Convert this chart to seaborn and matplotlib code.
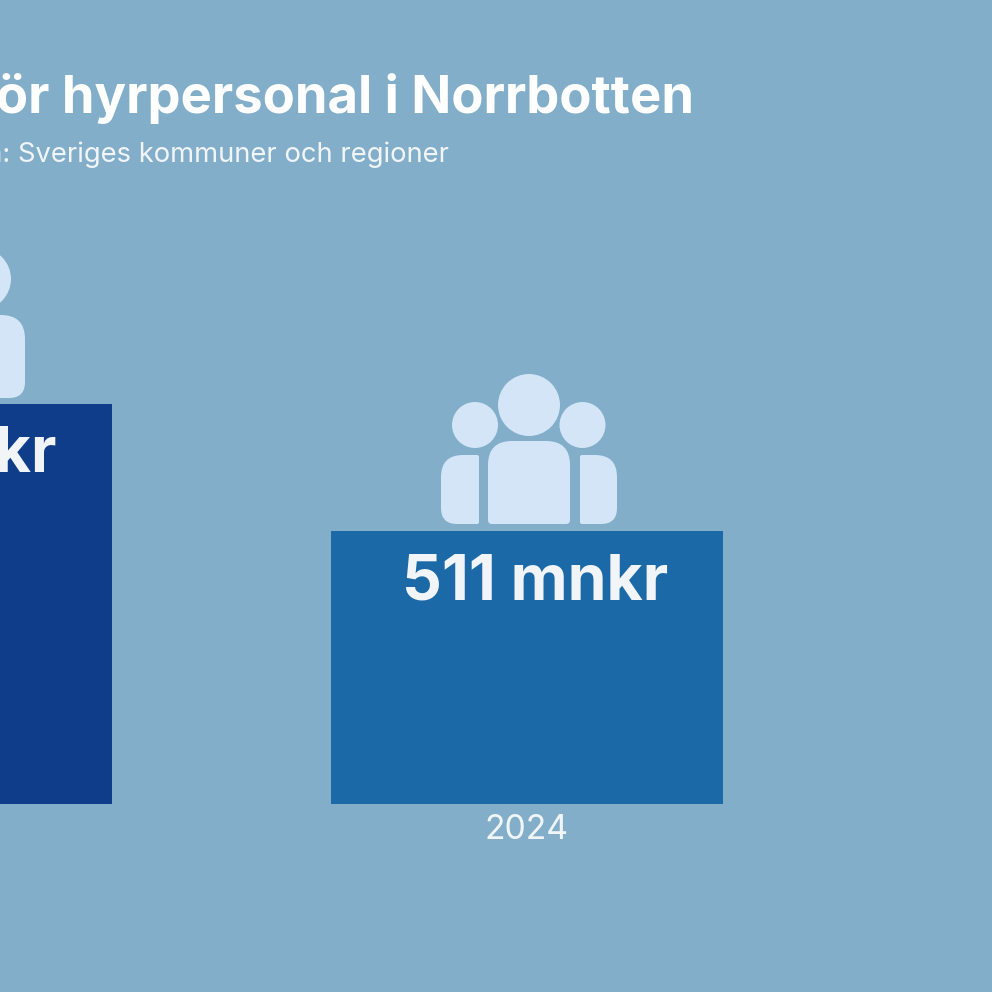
import matplotlib
matplotlib.use('Agg')
import matplotlib.pyplot as plt
from matplotlib.patches import Circle, PathPatch
from matplotlib.path import Path
from matplotlib.transforms import Affine2D
import pandas as pd
import seaborn as sns

years = ['2023', '2024']
costs = [749, 511]
value_labels = ['749 mnkr', '511 mnkr']
bar_colors = ['#0f3d8a', '#1c69a8']
title = 'Kostnader för hyrpersonal i Norrbotten'
subtitle = 'Källa: Sveriges kommuner och regioner'

BG = '#82aec9'
ICON = '#d3e5f6'
TEXT = '#f2f5f8'
FONT = ['Inter', 'DejaVu Sans']

sns.set_theme(style='white')
plt.rcParams['font.family'] = FONT

df = pd.DataFrame({'year': years, 'cost': costs})

fig = plt.figure(figsize=(9.92, 9.92), dpi=100, facecolor=BG)
# the picture is a crop, so the axes run past the left edge of the first bar
ax = fig.add_axes([0, 188 / 992, 1, 804 / 992], facecolor=BG)
sns.barplot(data=df, x='year', y='cost', hue='year', palette=bar_colors,
            legend=False, width=0.6415, saturation=1, linewidth=0, ax=ax)
ax.set_xlim(84 / 611, 1 + 465 / 611)
ax.set_ylim(0, 804 / 273 * 511)
ax.set_xlabel('')
ax.set_ylabel('')
ax.set_yticks([])
ax.tick_params(axis='x', length=0, pad=7, labelsize=24.3, colors=TEXT)
sns.despine(ax=ax, left=True, bottom=True)

# pixel coordinates, y downwards, for text and icons
px = Affine2D().scale(1 / 992, -1 / 992).translate(0, 1) + fig.transFigure


def rounded(x0, y0, x1, y1, tl, tr, br, bl):
    verts = [(x0 + tl, y0), (x1 - tr, y0), (x1, y0), (x1, y0 + tr),
             (x1, y1 - br), (x1, y1), (x1 - br, y1),
             (x0 + bl, y1), (x0, y1), (x0, y1 - bl),
             (x0, y0 + tl), (x0, y0), (x0 + tl, y0), (x0 + tl, y0)]
    codes = [Path.MOVETO, Path.LINETO, Path.CURVE3, Path.CURVE3,
             Path.LINETO, Path.CURVE3, Path.CURVE3,
             Path.LINETO, Path.CURVE3, Path.CURVE3,
             Path.LINETO, Path.CURVE3, Path.CURVE3, Path.CLOSEPOLY]
    return Path(verts, codes)


def add_shape(path):
    fig.add_artist(PathPatch(path, transform=px, fc=ICON, ec='none'))


def add_head(cx, cy, r):
    fig.add_artist(Circle((cx, cy), r, transform=px, fc=ICON, ec='none'))


# group of three on the right bar
add_head(529, 405, 31)
add_head(475, 425, 23)
add_head(582.5, 425, 23)
add_shape(rounded(488, 441, 570, 524, 24, 24, 4, 4))
add_shape(rounded(441, 455, 479, 524, 22, 2, 2, 16))
add_shape(rounded(580, 455, 617, 524, 2, 22, 16, 2))

# single person on the left bar, mostly outside the crop
add_head(-20, 279, 31)
add_shape(rounded(-57, 315, 25, 398, 24, 24, 16, 4))

fig.text(694, 99, title, transform=px, ha='right', va='center', color='white',
         fontsize=37.8, fontweight='bold')
fig.text(449, 155, subtitle, transform=px, ha='right', va='center', color=TEXT,
         fontsize=19.7)

# value labels sit a little off the bar centre
for i, (label, dx) in enumerate(zip(value_labels, [-5, 8])):
    ax.annotate(label, (i, costs[i]), xytext=(dx * 0.72, -52 * 0.72),
                textcoords='offset points', ha='center', va='center',
                color=TEXT, fontsize=45, fontweight='bold', annotation_clip=False)

fig.savefig('out.png', dpi=100, facecolor=BG)
